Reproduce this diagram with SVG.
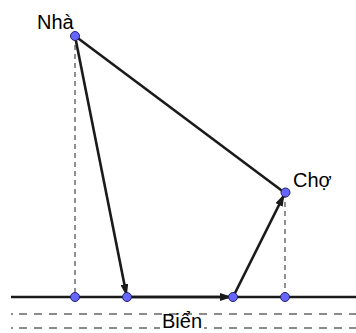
<svg xmlns="http://www.w3.org/2000/svg" width="356" height="333" viewBox="0 0 356 333">
<style>
.lbl{font-family:"Liberation Sans",Arial,sans-serif;font-size:20px;fill:#000}
.solid{stroke:#1a1a1a;stroke-width:2.6;fill:none}
.vdash{stroke:#555;stroke-width:1.3;stroke-dasharray:5,4;fill:none}
.hdash{stroke:#666;stroke-width:1.6;stroke-dasharray:8,7;fill:none}
.pt{fill:#6666ff;stroke:#222266;stroke-width:1}
</style>
<defs>
<marker id="ah" viewBox="0 0 12 8" refX="11" refY="4" markerWidth="12" markerHeight="8" markerUnits="userSpaceOnUse" orient="auto">
<path d="M0,0 L12,4 L0,8 Z" fill="#1a1a1a"/>
</marker>
</defs>
<rect width="356" height="333" fill="#fff"/>
<g id="connectors">
<line class="hdash" x1="19" y1="314" x2="356" y2="314"/>
<line class="hdash" x1="19" y1="328" x2="356" y2="328"/>
<line x1="11" y1="314" x2="13" y2="314" stroke="#666" stroke-width="1.6"/>
<line x1="11" y1="328" x2="13" y2="328" stroke="#666" stroke-width="1.6"/>
<line class="vdash" x1="75" y1="36" x2="75" y2="297"/>
<line class="vdash" x1="285" y1="193" x2="285" y2="297"/>
<line class="solid" x1="11" y1="297" x2="356" y2="297"/>
<line class="solid" x1="75" y1="36" x2="285" y2="193"/>
<line class="solid" x1="75" y1="36" x2="126.5" y2="295" marker-end="url(#ah)"/>
<line class="solid" x1="127" y1="297" x2="231" y2="297" marker-end="url(#ah)"/>
<line class="solid" x1="233" y1="297" x2="284" y2="195" marker-end="url(#ah)"/>
</g>
<g id="nha"><circle class="pt" cx="75" cy="36" r="4.5"/><text class="lbl" x="37" y="29">Nhà</text></g>
<g id="cho"><circle class="pt" cx="285.5" cy="192.5" r="4.5"/><text class="lbl" x="293" y="187">Chợ</text></g>
<g id="p1"><circle class="pt" cx="75" cy="297" r="4.5"/></g>
<g id="p2"><circle class="pt" cx="127" cy="297" r="4.5"/></g>
<g id="p3"><circle class="pt" cx="233" cy="297" r="4.5"/></g>
<g id="p4"><circle class="pt" cx="285" cy="297" r="4.5"/></g>
<g id="bien"><rect x="160" y="316" width="44" height="17" fill="#fff"/><text class="lbl" x="182" y="328" text-anchor="middle">Biển</text></g>
</svg>
